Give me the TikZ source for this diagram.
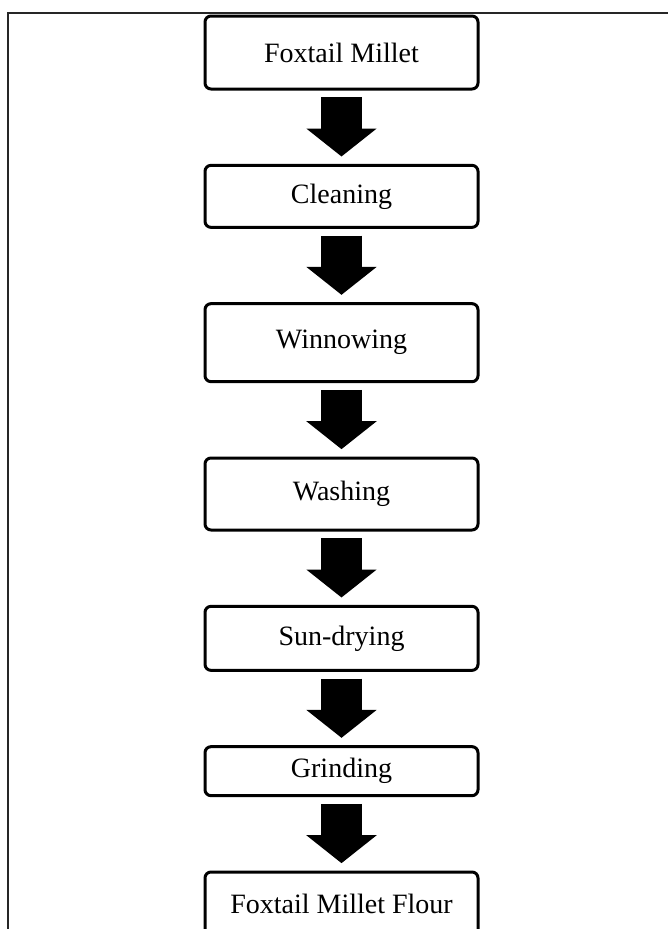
\documentclass[tikz,border=0pt]{standalone}
\usepackage{fontspec}
\setmainfont{Liberation Serif}
\usetikzlibrary{positioning, arrows.meta}
\tikzset{node distance=55pt, % gap between two stages
stage/.style={ % the rounded process boxes
draw, line width=2.25pt,
rounded corners=4.5pt,
minimum width=204.75pt,
inner sep=0pt,
font=\fontsize{21}{25}\selectfont},
flow/.style={ % the thick block arrows
draw, line width=30.75pt,
-{Triangle[width=51.75pt,length=21pt]},
shorten <=5pt, shorten >=5.5pt}}

\begin{document}
\begin{tikzpicture}[x=0.75pt, y=-0.75pt]

    \useasboundingbox (0,0) rectangle (668,929);
    \clip (0,0) rectangle (668,929);
    \draw[line width=1.2pt, black!85] (8,940) -- (8,13) -- (680,13);

    \node[stage, minimum height=54.75pt] (millet) at (341.5,52.5) {Foxtail Millet};
    \node[stage, minimum height=46.5pt, below=of millet] (clean) {Cleaning};
    \node[stage, minimum height=58.5pt, below=of clean] (winnow) {Winnowing};
    \node[stage, minimum height=54pt, below=of winnow] (wash) {Washing};
    \node[stage, minimum height=48pt, below=of wash] (sundry) {Sun-drying};
    \node[stage, minimum height=36.75pt, below=of sundry] (grind) {Grinding};
    \node[stage, minimum height=48pt, below=of grind] (flour) {Foxtail Millet Flour};

    \draw[flow] (millet) -- (clean);
    \draw[flow] (clean) -- (winnow);
    \draw[flow] (winnow) -- (wash);
    \draw[flow] (wash) -- (sundry);
    \draw[flow] (sundry) -- (grind);
    \draw[flow] (grind) -- (flour);

\end{tikzpicture}
\end{document}
